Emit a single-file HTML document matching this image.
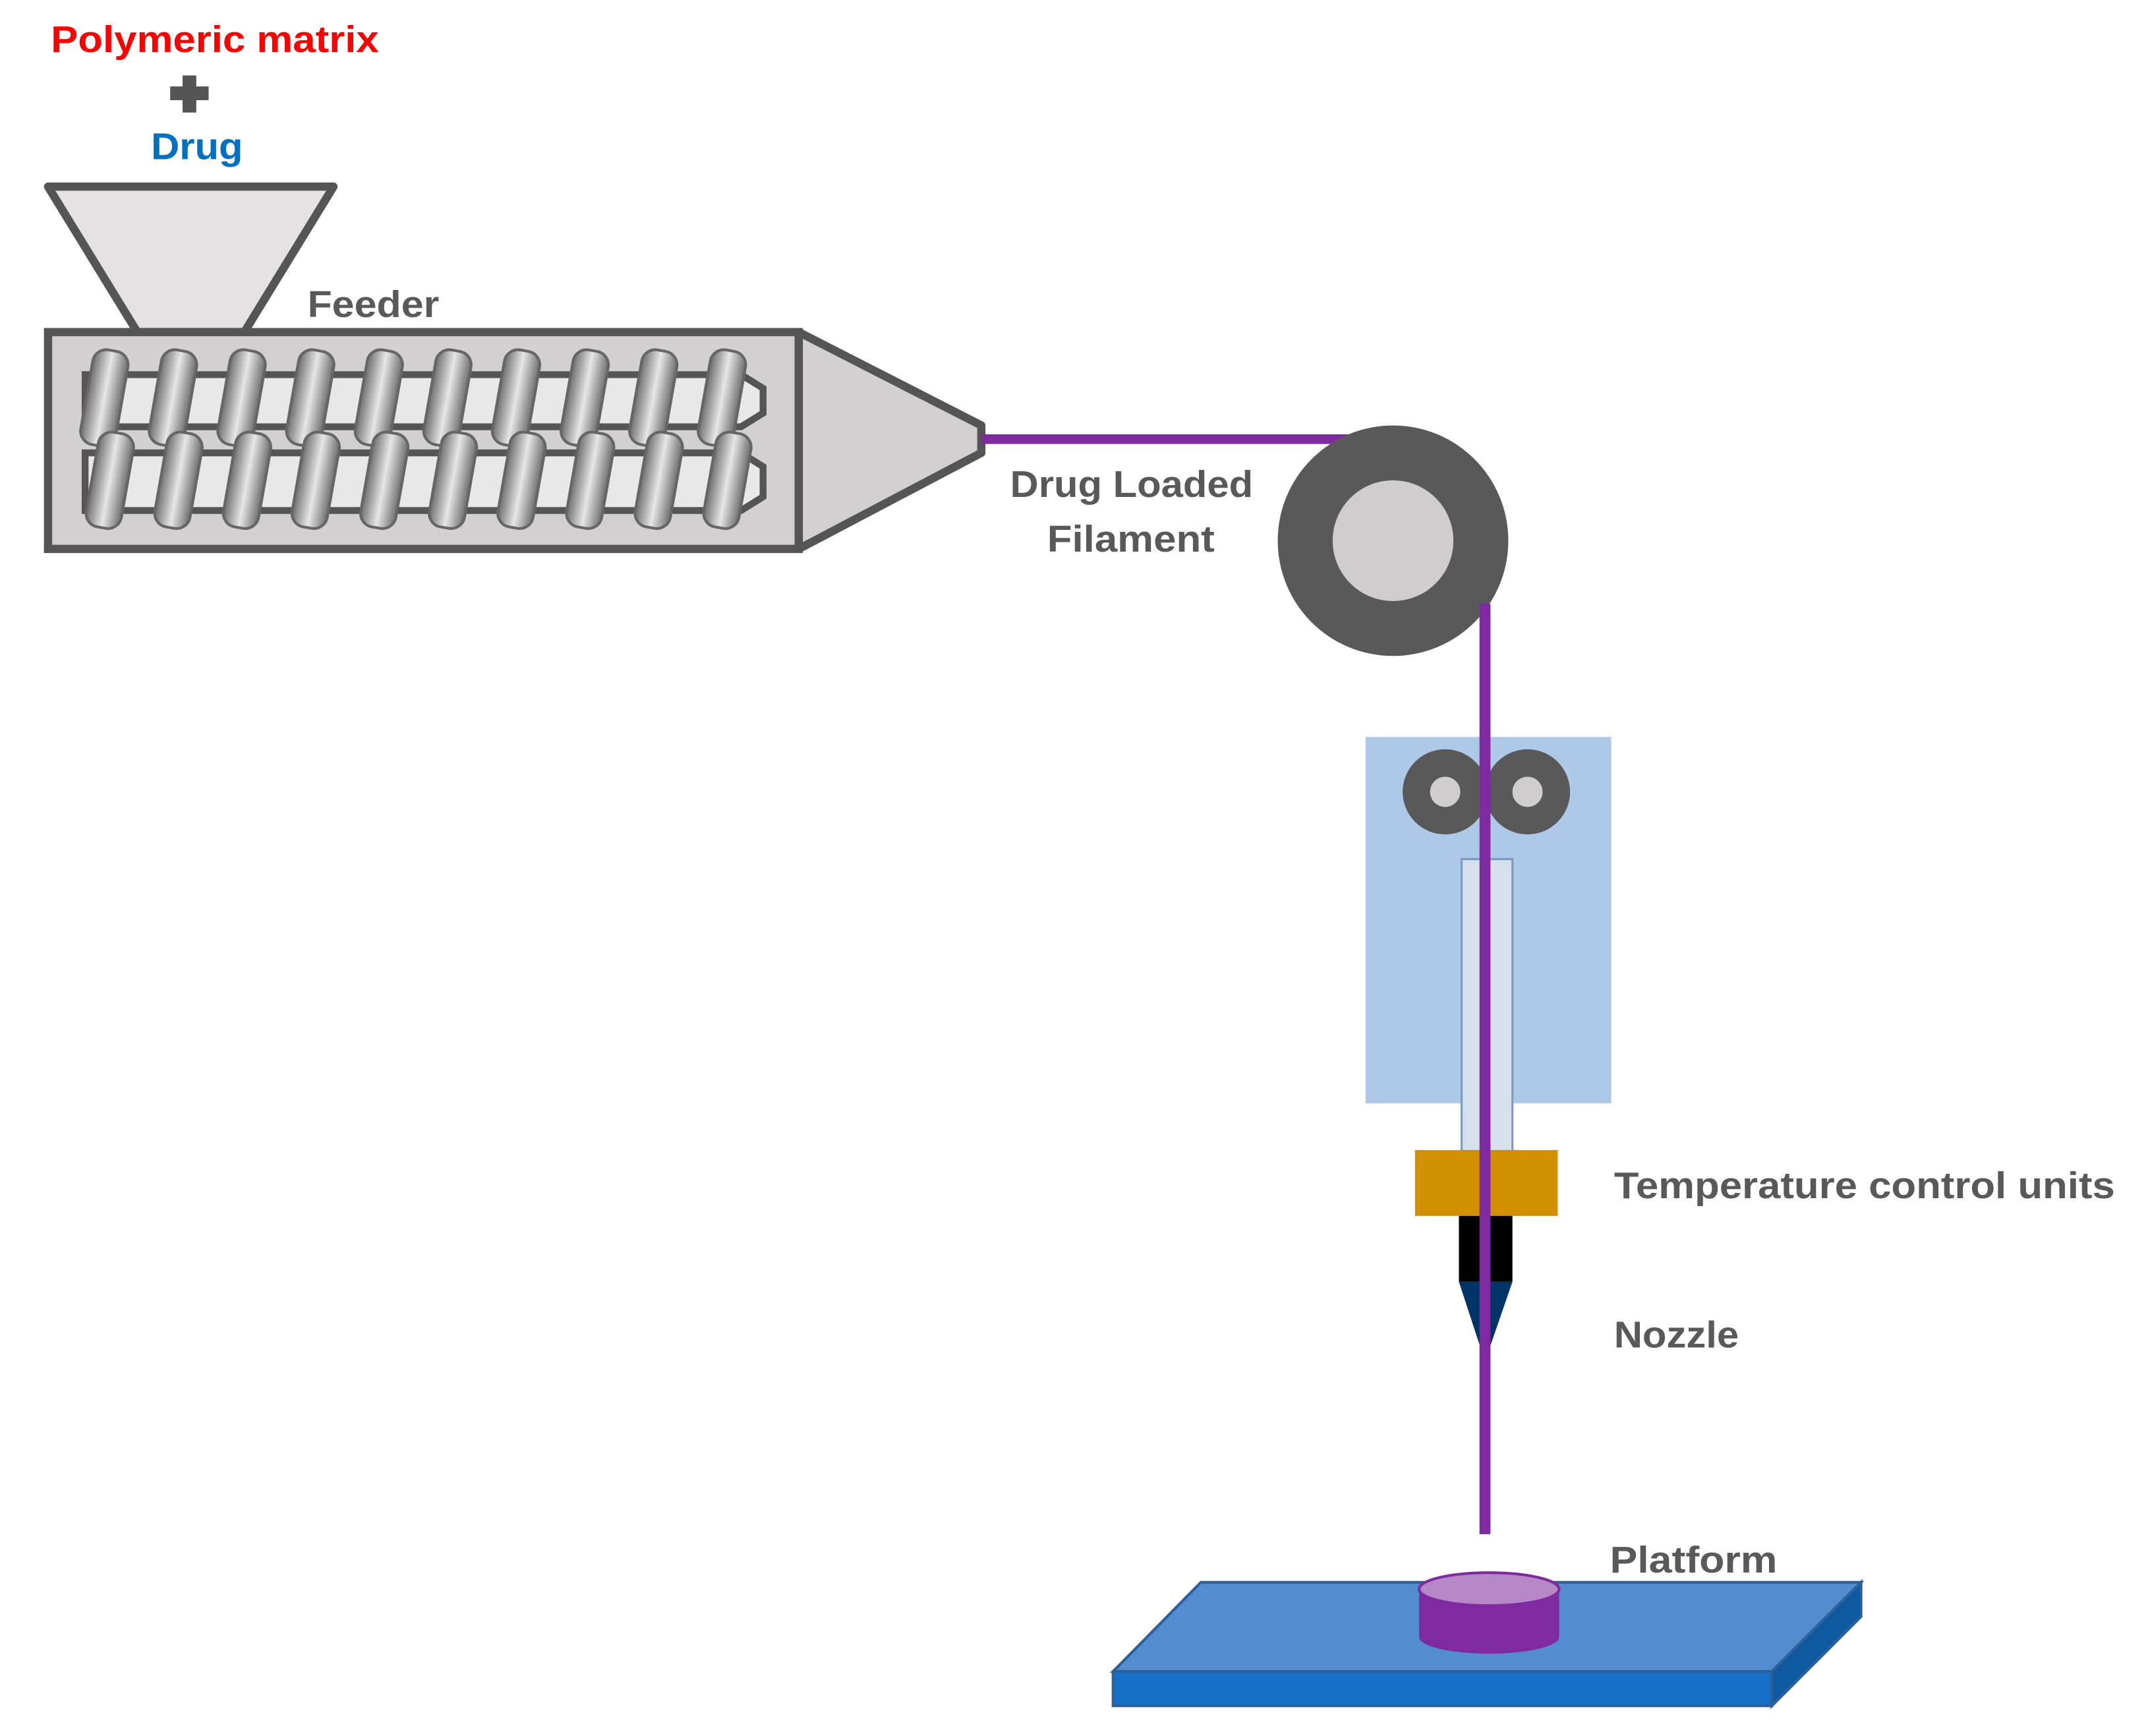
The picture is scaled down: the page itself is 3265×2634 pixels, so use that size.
<!DOCTYPE html>
<html><head><meta charset="utf-8"><style>html,body{margin:0;padding:0;background:#fff}svg{display:block}</style></head>
<body>
<svg width="3265" height="2634" viewBox="0 0 1568 1265" xmlns="http://www.w3.org/2000/svg">
<defs>
<linearGradient id="fl" x1="0" x2="1" y1="0" y2="0">
<stop offset="0" stop-color="#6d6d6d"/><stop offset="0.5" stop-color="#e6e6e6"/><stop offset="1" stop-color="#6d6d6d"/>
</linearGradient>
<g id="flight"><rect x="-13" y="-35" width="26" height="70" rx="10" fill="url(#fl)" stroke="#666" stroke-width="2"/></g>
</defs>
<g font-family="'Liberation Sans', sans-serif" font-weight="bold">
<text x="37" y="38" font-size="27" fill="#ff0000" textLength="239" lengthAdjust="spacingAndGlyphs">Polymeric matrix</text>
<text x="110" y="116" font-size="27" fill="#0070c0" textLength="67" lengthAdjust="spacingAndGlyphs">Drug</text>
<text x="224" y="231" font-size="27" fill="#595959" textLength="96" lengthAdjust="spacingAndGlyphs">Feeder</text>
<text x="736" y="362" font-size="27" fill="#595959" textLength="177" lengthAdjust="spacingAndGlyphs">Drug Loaded</text>
<text x="763" y="402" font-size="27" fill="#595959" textLength="122" lengthAdjust="spacingAndGlyphs">Filament</text>
<text x="1176" y="873" font-size="27" fill="#595959" textLength="365" lengthAdjust="spacingAndGlyphs">Temperature control units</text>
<text x="1176" y="982" font-size="27" fill="#595959" textLength="91" lengthAdjust="spacingAndGlyphs">Nozzle</text>
<text x="1173" y="1146" font-size="27" fill="#595959" textLength="122" lengthAdjust="spacingAndGlyphs">Platform</text>
</g>
<path d="M133 55h10v8h9v10h-9v9h-10v-9h-9v-10h9z" fill="#555"/>
<polygon points="35,136 243,136 178,242 100,242" fill="#e4e2e3" stroke="#555" stroke-width="6" stroke-linejoin="round"/>
<rect x="35" y="242" width="547" height="158" fill="#d3d0d1" stroke="#555" stroke-width="6"/>
<polygon points="582,242 715,310 715,330 582,400" fill="#d3d0d1" stroke="#555" stroke-width="6" stroke-linejoin="round"/>
<path d="M62 273 H540 L556 283 V301 L540 311 H62 Z" fill="#e8e8e8" stroke="#555" stroke-width="5"/>
<path d="M62 330 H540 L556 340 V362 L540 372 H62 Z" fill="#e8e8e8" stroke="#555" stroke-width="5"/>
<g>
<use href="#flight" transform="translate(76,290) rotate(10)"/>
<use href="#flight" transform="translate(126,290) rotate(10)"/>
<use href="#flight" transform="translate(176,290) rotate(10)"/>
<use href="#flight" transform="translate(226,290) rotate(10)"/>
<use href="#flight" transform="translate(276,290) rotate(10)"/>
<use href="#flight" transform="translate(326,290) rotate(10)"/>
<use href="#flight" transform="translate(376,290) rotate(10)"/>
<use href="#flight" transform="translate(426,290) rotate(10)"/>
<use href="#flight" transform="translate(476,290) rotate(10)"/>
<use href="#flight" transform="translate(526,290) rotate(10)"/>
<use href="#flight" transform="translate(80,350) rotate(10)"/>
<use href="#flight" transform="translate(130,350) rotate(10)"/>
<use href="#flight" transform="translate(180,350) rotate(10)"/>
<use href="#flight" transform="translate(230,350) rotate(10)"/>
<use href="#flight" transform="translate(280,350) rotate(10)"/>
<use href="#flight" transform="translate(330,350) rotate(10)"/>
<use href="#flight" transform="translate(380,350) rotate(10)"/>
<use href="#flight" transform="translate(430,350) rotate(10)"/>
<use href="#flight" transform="translate(480,350) rotate(10)"/>
<use href="#flight" transform="translate(530,350) rotate(10)"/>
</g>
<line x1="715" y1="320" x2="990" y2="320" stroke="#7f2aa0" stroke-width="7"/>
<rect x="995" y="537" width="179" height="267" fill="#aec8e8"/>
<rect x="1065" y="626" width="37" height="214" fill="#d6e0ea" stroke="#7a9bbf" stroke-width="1.5"/>
<circle cx="1015" cy="394" r="84" fill="#595959"/>
<circle cx="1015" cy="394" r="44" fill="#d0cdce"/>
<circle cx="1053" cy="577" r="31" fill="#595959"/>
<circle cx="1113" cy="577" r="31" fill="#595959"/>
<circle cx="1053" cy="577" r="11" fill="#d0cdce"/>
<circle cx="1113" cy="577" r="11" fill="#d0cdce"/>
<rect x="1031" y="838" width="104" height="48" fill="#d09000"/>
<rect x="1063" y="886" width="39" height="48" fill="#000"/>
<polygon points="1063,934 1102,934 1082,992" fill="#003366"/>
<line x1="1082" y1="440" x2="1082" y2="1118" stroke="#7f2aa0" stroke-width="8"/>
<polygon points="811,1218 875,1153 1356,1153 1291,1218" fill="#548dcf" stroke="#2d5f9a" stroke-width="2"/>
<rect x="811" y="1218" width="480" height="25" fill="#1570c8" stroke="#2d5f9a" stroke-width="2"/>
<polygon points="1291,1218 1356,1153 1356,1178 1291,1243" fill="#0e5aa0" stroke="#2d5f9a" stroke-width="2"/>
<path d="M1034 1158 V1193 A51 12 0 0 0 1136 1193 V1158 Z" fill="#7f2aa0"/>
<ellipse cx="1085" cy="1158" rx="51" ry="12" fill="#b788c8" stroke="#7f2aa0" stroke-width="2"/>
</svg>
</body></html>
